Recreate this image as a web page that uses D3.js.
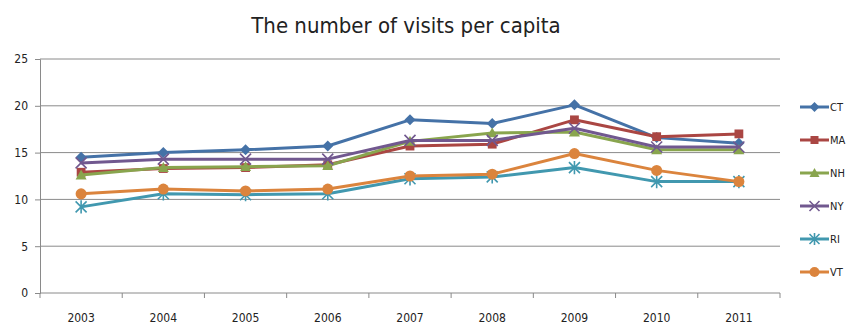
<!DOCTYPE html>
<html>
<head>
<meta charset="utf-8">
<script src="https://cdn.jsdelivr.net/npm/d3@7"></script>
<style>
  html, body { margin: 0; padding: 0; background: #fff; }
  svg { display: block; }
  text { font-family: "Liberation Sans Narrow", "DejaVu Sans Condensed", "Open Sans", sans-serif; fill: #222; }
</style>
</head>
<body>
<svg id="chart" width="849" height="326"></svg>
<script>
// Years on the category axis
const years = ["2003", "2004", "2005", "2006", "2007", "2008", "2009", "2010", "2011"];

// Visits per capita for each state
const CT = [14.5, 15.0, 15.3, 15.7, 18.5, 18.1, 20.1, 16.6, 16.0];
const MA = [12.9, 13.3, 13.4, 13.7, 15.7, 15.9, 18.5, 16.7, 17.0];
const NH = [12.6, 13.4, 13.5, 13.6, 16.2, 17.1, 17.2, 15.3, 15.3];
const NY = [13.9, 14.3, 14.3, 14.3, 16.3, 16.3, 17.6, 15.6, 15.6];
const RI = [9.2, 10.6, 10.5, 10.6, 12.2, 12.4, 13.4, 11.9, 11.9];
const VT = [10.6, 11.1, 10.9, 11.1, 12.5, 12.7, 14.9, 13.1, 11.9];

const seriesNames = ["CT", "MA", "NH", "NY", "RI", "VT"];
const seriesValues = [CT, MA, NH, NY, RI, VT];
const seriesColors = ["#4572A7", "#AA4643", "#89A54E", "#71588F", "#4198AF", "#DB843D"];
const seriesMarkers = ["diamond", "square", "triangle", "cross", "asterisk", "circle"];

const yTicks = [0, 5, 10, 15, 20, 25];
const title = "The number of visits per capita";

const svg = d3.select("#chart");
const plotLeft = 40, plotRight = 780, plotTop = 59, plotBottom = 293;

const x = d3.scaleBand().domain(years).range([plotLeft, plotRight]);
const y = d3.scaleLinear().domain([0, 25]).range([plotBottom, plotTop]);

// Title
svg.append("text")
  .attr("x", 406).attr("y", 33)
  .attr("text-anchor", "middle")
  .style("font-size", "22px")
  .text(title);

// Horizontal gridlines
svg.append("g")
  .selectAll("line")
  .data(yTicks.filter(d => d > 0))
  .join("line")
  .attr("x1", plotLeft).attr("x2", plotRight)
  .attr("y1", d => y(d)).attr("y2", d => y(d))
  .attr("stroke", "#8a8a8a").attr("stroke-width", 1);

// Y axis
const yAxis = svg.append("g")
  .attr("transform", `translate(${plotLeft},0)`)
  .call(d3.axisLeft(y).tickValues(yTicks).tickSize(5).tickPadding(7));
yAxis.select(".domain").attr("stroke", "#8a8a8a");
yAxis.selectAll(".tick line").attr("stroke", "#8a8a8a");
yAxis.selectAll(".tick text")
  .style("font-size", "12px")
  .style("font-family", "'Liberation Sans Narrow', 'DejaVu Sans Condensed', sans-serif")
  .attr("fill", "#222");

// X axis with tick marks at category boundaries
const xAxis = svg.append("g")
  .attr("transform", `translate(0,${plotBottom})`);
xAxis.append("line")
  .attr("x1", plotLeft).attr("x2", plotRight)
  .attr("stroke", "#8a8a8a");
const bounds = years.map(d => x(d)).concat([x(years[years.length - 1]) + x.bandwidth()]);
xAxis.selectAll("line.tk")
  .data(bounds)
  .join("line").attr("class", "tk")
  .attr("x1", d => d).attr("x2", d => d)
  .attr("y1", 0).attr("y2", 5)
  .attr("stroke", "#8a8a8a");
xAxis.selectAll("text")
  .data(years)
  .join("text")
  .attr("x", d => x(d) + x.bandwidth() / 2)
  .attr("y", 29)
  .attr("text-anchor", "middle")
  .style("font-size", "12px")
  .text(d => d);

// Marker drawing
function drawMarker(g, type, color, size) {
  const s = size;
  switch (type) {
    case "diamond":
      g.append("path").attr("d", `M0,${-s}L${s},0L0,${s}L${-s},0Z`).attr("fill", color);
      break;
    case "square":
      g.append("rect").attr("x", -s * 0.8).attr("y", -s * 0.8)
        .attr("width", s * 1.6).attr("height", s * 1.6).attr("fill", color);
      break;
    case "triangle":
      g.append("path").attr("d", `M0,${-s}L${s},${s * 0.8}L${-s},${s * 0.8}Z`).attr("fill", color);
      break;
    case "cross":
      g.append("path").attr("d", `M${-s},${-s}L${s},${s}M${-s},${s}L${s},${-s}`)
        .attr("stroke", color).attr("stroke-width", 1.6).attr("fill", "none");
      break;
    case "asterisk":
      g.append("path").attr("d", `M${-s},${-s}L${s},${s}M${-s},${s}L${s},${-s}M0,${-s * 1.2}L0,${s * 1.2}`)
        .attr("stroke", color).attr("stroke-width", 1.6).attr("fill", "none");
      break;
    case "circle":
      g.append("circle").attr("r", s).attr("fill", color);
      break;
  }
}

const line = d3.line()
  .x((d, i) => x(years[i]) + x.bandwidth() / 2)
  .y(d => y(d));

// Series lines and markers
seriesNames.forEach((name, k) => {
  const vals = seriesValues[k];
  const color = seriesColors[k];
  const g = svg.append("g");
  g.append("path")
    .datum(vals)
    .attr("d", line)
    .attr("fill", "none")
    .attr("stroke", color)
    .attr("stroke-width", 3)
    .attr("stroke-linejoin", "round");
  vals.forEach((v, i) => {
    const m = g.append("g")
      .attr("transform", `translate(${x(years[i]) + x.bandwidth() / 2},${y(v)})`);
    drawMarker(m, seriesMarkers[k], color, 5.5);
  });
});

// Legend
const legend = svg.append("g");
seriesNames.forEach((name, k) => {
  const ly = 107 + k * 33;
  const lg = legend.append("g");
  lg.append("line")
    .attr("x1", 800).attr("x2", 829)
    .attr("y1", ly).attr("y2", ly)
    .attr("stroke", seriesColors[k]).attr("stroke-width", 3);
  const m = lg.append("g").attr("transform", `translate(814.5,${ly})`);
  drawMarker(m, seriesMarkers[k], seriesColors[k], 5);
  lg.append("text")
    .attr("x", 830).attr("y", ly + 4)
    .style("font-size", "11px")
    .text(name);
});
</script>
</body>
</html>
